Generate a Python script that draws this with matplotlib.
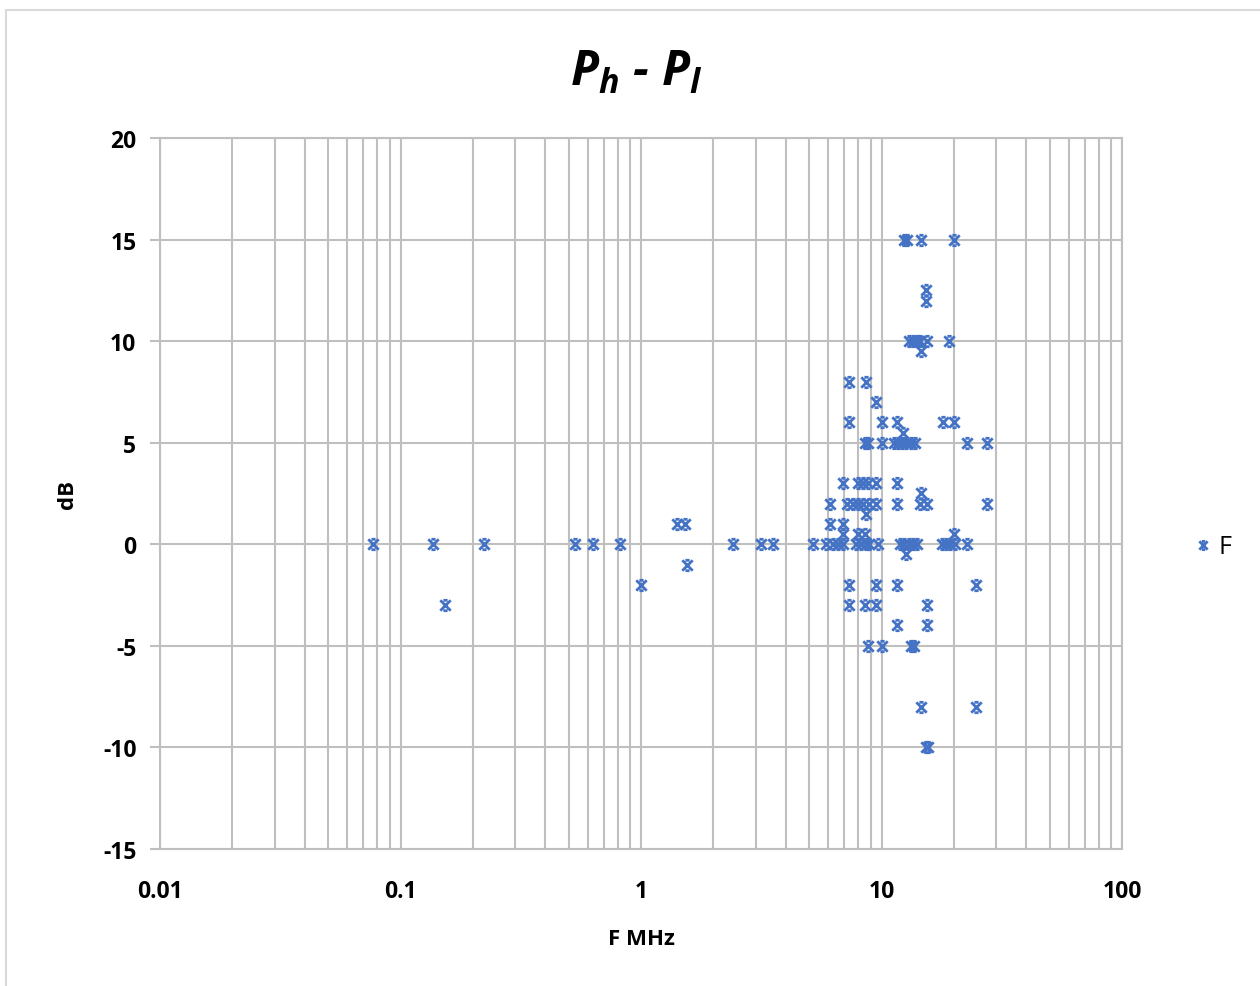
import numpy as np
import matplotlib
matplotlib.use("Agg")
from matplotlib import pyplot as plt
from matplotlib.path import Path
from matplotlib.ticker import FixedLocator, NullFormatter, FixedFormatter

plt.rcParams['font.family'] = ['Open Sans', 'DejaVu Sans']
plt.rcParams['axes.unicode_minus'] = False
plt.rcParams['mathtext.fontset'] = 'custom'
plt.rcParams['mathtext.it'] = 'Open Sans:bold:italic'
plt.rcParams['mathtext.rm'] = 'Open Sans:bold'

# Frequency (MHz) and level difference (dB)
freq = [0.077, 0.136, 0.223, 0.533, 0.634, 0.82, 2.42, 3.15, 3.55, 5.2,
        5.9, 6.3, 6.6, 6.9, 7.8, 8.2, 8.6, 8.9, 9.7, 11.9,
        12.4, 13.0, 13.5, 14.0, 17.8, 18.5, 19.3, 20.3, 22.6,
        0.153, 1.41, 1.52, 6.1, 6.9, 1.55,
        1.0, 7.35, 9.5, 11.6, 24.6,
        12.4, 12.8, 14.6, 20.0, 15.3, 15.3,
        13.0, 13.5, 14.0, 14.5, 15.5, 19.1, 14.6,
        7.33, 8.6, 9.46,
        7.33, 10.0, 11.6, 18.0, 20.1, 12.25,
        8.5, 8.8, 10.0, 11.3, 11.7, 12.2, 12.7, 13.2, 13.8, 22.6, 27.4,
        6.9, 8.0, 8.4, 8.8, 9.5, 11.6, 14.6,
        6.1, 7.2, 7.6, 8.0, 8.4, 8.9, 9.5, 11.6, 14.5, 15.5, 27.4,
        8.6, 6.9, 8.0, 8.5, 20.0, 12.7,
        7.35, 8.5, 9.5, 15.5,
        11.6, 15.5,
        8.75, 10.0, 13.2, 13.6,
        14.6, 24.6, 15.3, 15.6]
db = [0, 0, 0, 0, 0, 0, 0, 0, 0, 0,
      0, 0, 0, 0, 0, 0, 0, 0, 0, 0,
      0, 0, 0, 0, 0, 0, 0, 0, 0,
      -3, 1, 1, 1, 1, -1,
      -2, -2, -2, -2, -2,
      15, 15, 15, 15, 12.5, 12,
      10, 10, 10, 10, 10, 10, 9.5,
      8, 8, 7,
      6, 6, 6, 6, 6, 5.5,
      5, 5, 5, 5, 5, 5, 5, 5, 5, 5, 5,
      3, 3, 3, 3, 3, 3, 2.5,
      2, 2, 2, 2, 2, 2, 2, 2, 2, 2, 2,
      1.5, 0.5, 0.5, 0.5, 0.5, -0.5,
      -3, -3, -3, -3,
      -4, -4,
      -5, -5, -5, -5,
      -8, -8, -10, -10]

x_major = [0.01, 0.1, 1, 10, 100]
x_labels = ['0.01', '0.1', '1', '10', '100']
y_ticks = [20, 15, 10, 5, 0, -5, -10, -15]

grid_c = '#BFBFBF'
blue = '#4472C4'

# Excel-like star marker: X with short caps
star = Path([(-1, -1), (1, 1), (-1, 1), (1, -1),
             (-0.4, 1), (0.4, 1), (-0.4, -1), (0.4, -1)],
            [Path.MOVETO, Path.LINETO, Path.MOVETO, Path.LINETO,
             Path.MOVETO, Path.LINETO, Path.MOVETO, Path.LINETO])

fig = plt.figure(figsize=(12.6, 9.87), dpi=100)
fig.patches.append(plt.Rectangle((0.005, -0.01), 1.2, 0.999, transform=fig.transFigure,
                                 fill=False, edgecolor='#D9D9D9', linewidth=1.5))
ax = fig.add_axes([0.127, 0.139, 0.7635, 0.720])

ax.plot(freq, db, linestyle='none', marker=star, markersize=7.5,
        markeredgewidth=2.0, color=blue, label='F')

ax.set_xscale('log')
ax.set_xlim(0.01, 100)
ax.set_ylim(-15, 20)

minors = [m * d for d in [0.01, 0.1, 1, 10] for m in range(2, 10)]
ax.xaxis.set_major_locator(FixedLocator(x_major))
ax.xaxis.set_major_formatter(FixedFormatter(x_labels))
ax.xaxis.set_minor_locator(FixedLocator(minors))
ax.xaxis.set_minor_formatter(NullFormatter())
ax.set_yticks(y_ticks)

ax.grid(True, which='both', axis='x', color=grid_c, linewidth=1.5)
ax.grid(True, which='major', axis='y', color=grid_c, linewidth=1.5)
ax.set_axisbelow(True)
for s in ax.spines.values():
    s.set_color(grid_c)
    s.set_linewidth(1.5)

ax.tick_params(axis='y', which='major', length=7, width=1.5, color=grid_c,
               labelsize=16.5, pad=10)
ax.tick_params(axis='x', which='both', length=0, labelsize=16.5, pad=22)
for lbl in ax.get_xticklabels() + ax.get_yticklabels():
    lbl.set_fontweight('bold')

ax.set_xlabel('F MHz', fontsize=16, fontweight='bold', labelpad=18)
ax.set_ylabel('dB', fontsize=16, fontweight='bold', labelpad=18)

fig.text(0.505, 0.926, r'$P_h$ - $P_l$', ha='center', va='center',
         fontsize=35, fontweight='bold', fontstyle='italic')

fig.legend(loc='center left', bbox_to_anchor=(0.945, 0.445), frameon=False,
           fontsize=18, handletextpad=0.1, borderaxespad=0, borderpad=0,
           handlelength=1.0, markerscale=0.8)

fig.savefig('out.png', dpi=100)
